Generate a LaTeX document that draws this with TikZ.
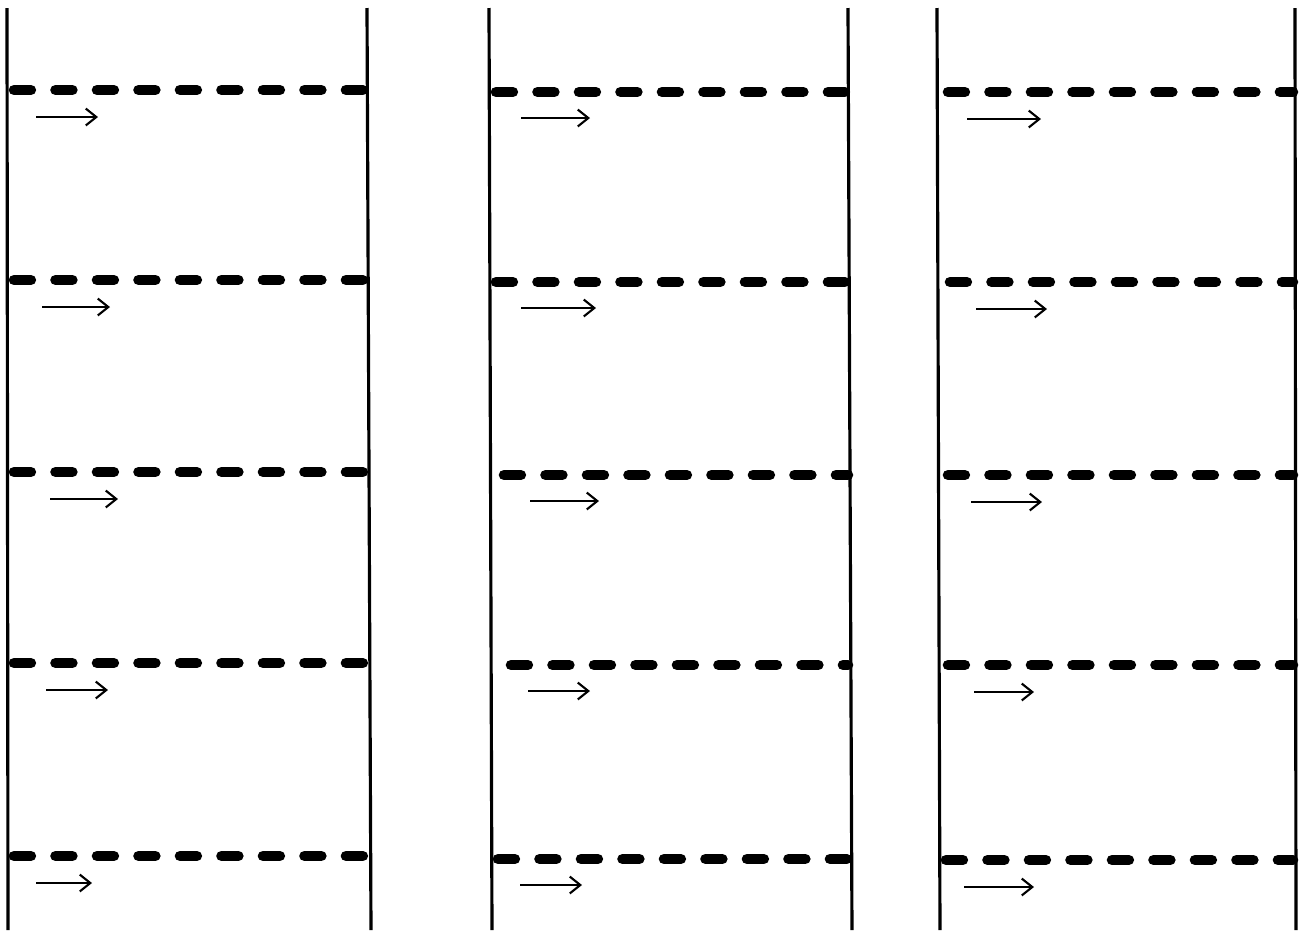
\documentclass[tikz,border=0pt]{standalone}
\usetikzlibrary{arrows.meta}

\tikzset{
  wall/.style={line width=0.9pt},
  front/.style={line width=3pt,line cap=round,dash pattern=on 4.8pt off 7pt},
  flow/.style={->,line width=0.6pt},
}

\begin{document}
\begin{tikzpicture}[x=0.01cm,y=-0.01cm,>={Straight Barb[length=3pt,width=4.8pt]}]
  \useasboundingbox (0,0) rectangle (1314,933);

  % channel walls
  \draw[wall] (7,8) -- (8,930);
  \draw[wall] (367,8) -- (371,930);
  \draw[wall] (489,8) -- (492,930);
  \draw[wall] (848,8) -- (852,930);
  \draw[wall] (937,8) -- (940,930);
  \draw[wall] (1295,8) -- (1296,930);

  % fronts and flow arrows, left channel
  \foreach \y/\a/\b in {90/36/98, 280/42/110, 472/50/118, 663/46/108, 856/36/92}{
    \draw[front] (14,\y) -- (365,\y);
    \draw[flow] (\a,\y+27) -- (\b,\y+27);
  }

  % middle channel
  \foreach \y/\s/\a/\b in {92/496/521/590, 282/496/521/596, 475/504/530/599, 665/511/528/590, 859/498/520/582}{
    \draw[front] (\s,\y) -- (848,\y);
    \draw[flow] (\a,\y+26) -- (\b,\y+26);
  }

  % right channel
  \foreach \y/\s/\a/\b in {92/948/967/1041, 282/950/976/1047, 475/948/971/1042, 665/948/974/1034, 860/946/964/1034}{
    \draw[front] (\s,\y) -- (1293,\y);
    \draw[flow] (\a,\y+27) -- (\b,\y+27);
  }
\end{tikzpicture}
\end{document}
